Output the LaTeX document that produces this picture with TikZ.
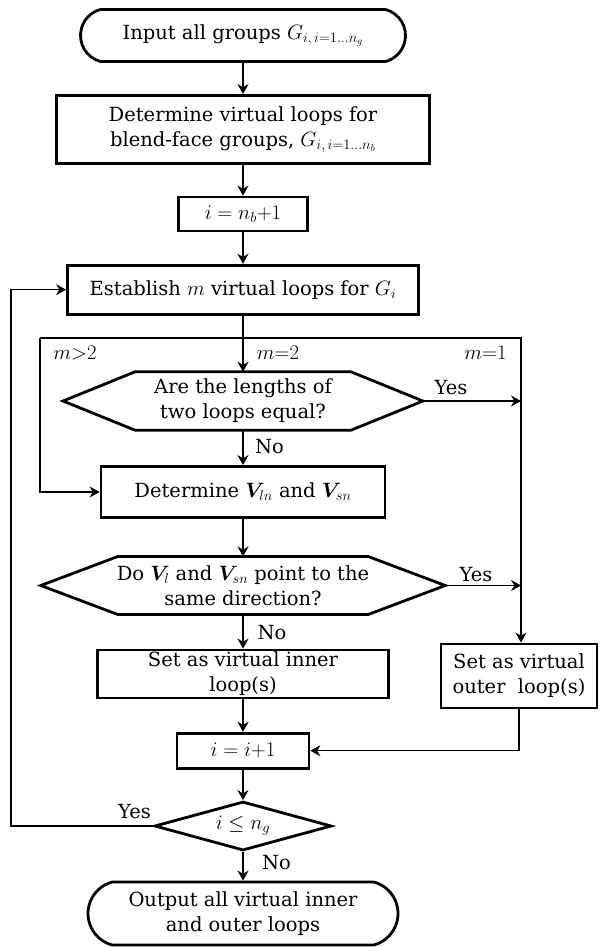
\documentclass[tikz,border=0pt]{standalone}
\usepackage{amsmath}
\usepackage{bm}
\usepackage{fontspec}
\setmainfont{DejaVu Serif}
\usetikzlibrary{arrows.meta,shapes.misc,shapes.geometric}

\tikzset{
    every node/.style={font=\fontsize{19.5}{25}\selectfont, align=center, inner sep=0pt},
    term/.style={draw, rounded rectangle, rounded rectangle arc length=150, line width=2.8pt},
    proc/.style={draw, rectangle, line width=2.8pt},
    hexq/.style={rectangle},
    cond/.style={draw, diamond, aspect=3.6, line width=2.8pt},
    arr/.style={-{Stealth[length=10pt,width=11pt]}, line width=1.8pt},
    thinarr/.style={-{Stealth[length=10pt,width=11pt]}, line width=1.2pt},
}
% outline of a hexagon decision box around a plain node
\newcommand{\hexoutline}[2]{%
    \draw[line width=2.8pt] (#1.west) -- ([xshift=#2]#1.north west) -- ([xshift=-#2]#1.north east)
        -- (#1.east) -- ([xshift=-#2]#1.south east) -- ([xshift=#2]#1.south west) -- cycle;}

\begin{document}
\begin{tikzpicture}[x=1pt, y=-1pt]
    \useasboundingbox (0,0) rectangle (600,947);
    % main column
    \node[term, minimum width=325pt, minimum height=52pt] (start) at (243,35.5) {Input all groups $G_{i,\,i=1\ldots n_g}$};
    \node[proc, minimum width=373pt, minimum height=68pt] (detvl) at (243,129.5) {Determine virtual loops for\\blend-face groups, $G_{i,\,i=1\ldots n_b}$};
    \node[proc, minimum width=129pt, minimum height=34pt] (init) at (243,214) {$i = n_b{+}1$};
    \node[proc, minimum width=351pt, minimum height=49pt] (estab) at (243,289.7) {Establish $m$ virtual loops for $G_i$};
    \node[hexq, minimum width=359.5pt, minimum height=58pt] (q1) at (243,401) {Are the lengths of\\two loops equal?};
    \hexoutline{q1}{72pt}
    \node[proc, minimum width=284pt, minimum height=51pt] (detv) at (243,492) {Determine $\bm{V}_{ln}$ and $\bm{V}_{sn}$};
    \node[hexq, minimum width=404pt, minimum height=57.6pt] (q2) at (243,585.5) {Do $\bm{V}_l$ and $\bm{V}_{sn}$ point to the\\same direction?};
    \hexoutline{q2}{77pt}
    \node[proc, minimum width=291pt, minimum height=48pt] (inner) at (243,674) {Set as virtual inner\\loop(s)};
    \node[proc, minimum width=156pt, minimum height=64pt] (outer) at (519,676) {Set as virtual\\outer~~loop(s)};
    \node[proc, minimum width=132pt, minimum height=35pt] (inc) at (243,750.7) {$i = i{+}1$};
    \node[cond, minimum width=177pt, minimum height=49pt] (q3) at (243,826) {$i \le n_g$};
    \node[term, minimum width=310pt, minimum height=63pt] (stop) at (243,913.5) {Output all virtual inner\\and outer loops};

    % case frame
    \coordinate (fl) at (40,338);
    \coordinate (fr) at (521,338);
    \coordinate (back) at (11,0);

    \draw[arr] (start) -- (detvl);
    \draw[arr] (detvl) -- (init);
    \draw[arr] (init) -- (estab);
    \draw[arr] (estab) -- (q1);
    \draw[arr] (q1) -- (detv);
    \draw[arr] (detv) -- (q2);
    \draw[arr] (q2) -- (inner);
    \draw[arr] (inner) -- (inc);
    \draw[arr] (inc) -- (q3);
    \draw[arr] (q3) -- (stop);
    \draw[thinarr] (fl) |- (detv.west);
    \draw[thinarr] (fl) -- (fr) -- (fr |- outer.north);
    \draw[thinarr] (q1.east) -- (q1.east -| fr);
    \draw[thinarr] (q2.east) -- (q2.east -| fr);
    \draw[thinarr] (outer.south) |- (inc.east);
    \draw[thinarr] (q3.west) -- (q3.west -| back) |- (estab.west);

    % labels
    \node (lm3) at (75,353) {$m{>}2$};
    \node (lm2) at (278,353) {$m{=}2$};
    \node (lm1) at (485.5,353) {$m{=}1$};
    \node (y1) at (451,388) {Yes};
    \node (n1) at (269.5,447) {No};
    \node (y2) at (476,575) {Yes};
    \node (n2) at (272,633) {No};
    \node (y3) at (134.5,812) {Yes};
    \node (n3) at (276.5,863) {No};
\end{tikzpicture}
\end{document}
